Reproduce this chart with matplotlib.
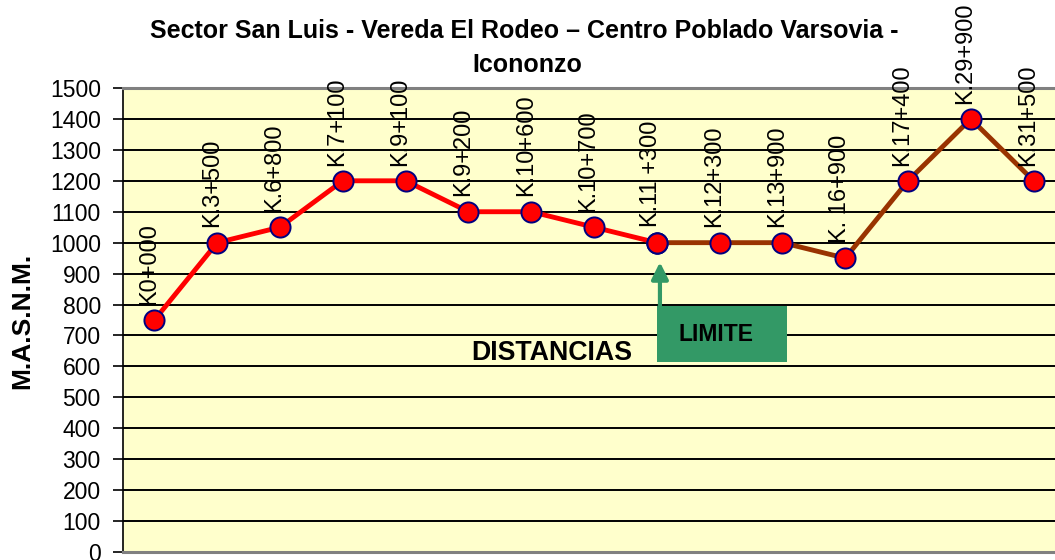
import matplotlib
matplotlib.use("Agg")
import matplotlib.pyplot as plt
from matplotlib.patches import Rectangle

# datos del perfil
etiquetas = ["K0+000", "K.3+500", "K.6+800", "K.7+100", "K.9+100", "K.9+200",
             "K.10+600", "K.10+700", "K.11 +300", "K.12+300", "K.13+900",
             "K. 16+900", "K.17+400", "K.29+900", "K.31+500"]
altura = [750, 1000, 1050, 1200, 1200, 1100, 1100, 1050, 1000, 1000, 1000,
          950, 1200, 1400, 1200]
limite = 8  # indice del punto LIMITE
y_ticks = list(range(0, 1501, 100))

plt.rcParams['font.family'] = ['Liberation Sans', 'DejaVu Sans']

fig = plt.figure(figsize=(10.55, 5.6), dpi=100)
W, H = 1055, 560
ax = fig.add_axes([123 / W, 8 / H, 942 / W, 464 / H])
ax.set_facecolor('#FFFFCC')

x = list(range(len(altura)))
mk = dict(marker='o', markersize=14.5, markerfacecolor='#FF0000',
          markeredgecolor='#000080', markeredgewidth=1.4, zorder=4)
ax.plot(x[:limite + 1], altura[:limite + 1], color='#FF0000', lw=3.5, **mk)
ax.plot(x[limite:], altura[limite:], color='#993300', lw=3.5, **mk)
# repintar el punto de union encima
ax.plot([x[limite]], [altura[limite]], linestyle='none', **mk)

for xi, yi, t in zip(x, altura, etiquetas):
    ax.annotate(t, (xi, yi), xytext=(-4, 11), textcoords='offset points',
                rotation=90, ha='center', va='bottom', fontsize=17, zorder=5,
                annotation_clip=False)

ax.set_xlim(-0.5, len(altura) - 0.5)
ax.set_ylim(0, 1500)
ax.set_yticks(y_ticks)
ax.set_xticks([])
ax.tick_params(axis='y', labelsize=16.5, length=7, width=1.2, direction='out', pad=9)
ax.yaxis.grid(True, color='black', lw=1.4)
ax.set_axisbelow(True)
ax.spines['left'].set_color('black')
ax.spines['left'].set_linewidth(1.2)
for s in ('top', 'bottom'):
    ax.spines[s].set_color('#808080')
    ax.spines[s].set_linewidth(2.2)
ax.spines['right'].set_visible(False)

# cuadro LIMITE con flecha
verde = '#339966'
ax.add_patch(Rectangle((8.0, 614), 2.07, 181, facecolor=verde, edgecolor='none', zorder=3))
ax.text(8.95, 704, "LIMITE", ha='center', va='center', fontsize=16.5, fontweight='bold', zorder=4)
ax.annotate('', xy=(8.05, 937), xytext=(8.05, 795),
            arrowprops=dict(arrowstyle='-|>,head_length=0.5,head_width=0.25',
                            color=verde, lw=3, mutation_scale=20,
                            shrinkA=0, shrinkB=0), zorder=3)

ax.text(6.33, 643, "DISTANCIAS", ha='center', va='center', fontsize=19.3,
        fontweight='bold', zorder=4)

fig.text(22 / W, 1 - 321 / H, "M.A.S.N.M.", rotation=90, ha='center', va='center',
         fontsize=19, fontweight='bold')
fig.text(524 / W, 1 - 31 / H, "Sector San Luis - Vereda El Rodeo \u2013 Centro Poblado Varsovia -",
         ha='center', va='center', fontsize=18, fontweight='bold')
fig.text(527 / W, 1 - 65 / H, "Icononzo", ha='center', va='center',
         fontsize=18, fontweight='bold')

fig.savefig("out.png", dpi=100)
